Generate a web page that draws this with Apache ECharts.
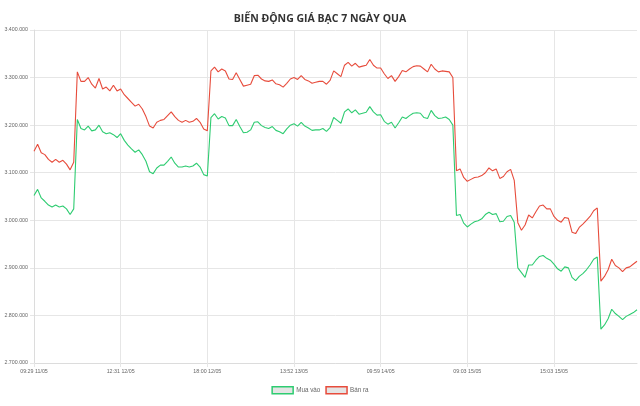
<!DOCTYPE html>
<html>
<head>
<meta charset="utf-8">
<script src="https://cdn.jsdelivr.net/npm/echarts@6/dist/echarts.min.js"></script>
<style>
    html, body { margin: 0; padding: 0; background: #fff; }
    #chart { width: 640px; height: 406px; }
</style>
</head>
<body>
<div id="chart"></div>
<script>
// nhãn trục x (mỗi 24 điểm một nhãn)
var tickLabels = ["09:29 11/05", "12:31 12/05", "18:00 12/05", "13:52 13/05", "09:59 14/05", "09:03 15/05", "15:03 15/05"];
var tickStep = 24;

// giá bán ra (đỏ)
var banRa = [
    3145000, 3160000, 3142000, 3138000, 3128000, 3122000, 3128000, 3122000, 3126000, 3118000, 3106000, 3122000,
    3312000, 3292000, 3292000, 3300000, 3286000, 3278000, 3298000, 3276000, 3280000, 3272000, 3284000, 3272000,
    3276000, 3264000, 3256000, 3248000, 3240000, 3244000, 3234000, 3218000, 3198000, 3194000, 3206000, 3210000,
    3212000, 3220000, 3228000, 3218000, 3210000, 3206000, 3210000, 3206000, 3208000, 3214000, 3206000, 3192000,
    3188000, 3314000, 3322000, 3312000, 3318000, 3314000, 3297000, 3296000, 3310000, 3296000, 3282000, 3284000,
    3286000, 3304000, 3305000, 3297000, 3293000, 3292000, 3295000, 3287000, 3285000, 3280000, 3288000, 3297000,
    3300000, 3296000, 3304000, 3296000, 3293000, 3288000, 3290000, 3292000, 3292000, 3286000, 3294000, 3314000,
    3308000, 3302000, 3326000, 3332000, 3324000, 3330000, 3322000, 3324000, 3326000, 3338000, 3326000, 3320000,
    3320000, 3308000, 3298000, 3304000, 3292000, 3302000, 3315000, 3312000, 3318000, 3323000, 3325000, 3324000,
    3318000, 3312000, 3328000, 3318000, 3312000, 3314000, 3313000, 3312000, 3300000, 3104000, 3108000, 3090000,
    3082000, 3086000, 3090000, 3091000, 3094000, 3100000, 3110000, 3104000, 3108000, 3088000, 3092000, 3102000,
    3107000, 3084000, 2995000, 2979000, 2990000, 3011000, 3005000, 3018000, 3030000, 3032000, 3024000, 3024000,
    3008000, 3000000, 2996000, 3006000, 3004000, 2975000, 2972000, 2985000, 2992000, 3000000, 3008000, 3020000,
    3026000, 2872000, 2882000, 2896000, 2918000, 2905000, 2900000, 2892000, 2900000, 2902000, 2908000, 2914000
];

// giá mua vào (xanh)
var muaVao = [
    3052000, 3065000, 3047000, 3040000, 3032000, 3028000, 3032000, 3028000, 3030000, 3024000, 3012000, 3024000,
    3212000, 3193000, 3190000, 3198000, 3188000, 3190000, 3200000, 3186000, 3182000, 3184000, 3180000, 3174000,
    3182000, 3168000, 3158000, 3150000, 3143000, 3148000, 3138000, 3124000, 3102000, 3098000, 3110000, 3116000,
    3116000, 3124000, 3133000, 3120000, 3112000, 3112000, 3114000, 3112000, 3114000, 3120000, 3112000, 3096000,
    3093000, 3216000, 3224000, 3213000, 3218000, 3215000, 3199000, 3199000, 3212000, 3197000, 3184000, 3185000,
    3190000, 3206000, 3207000, 3199000, 3195000, 3193000, 3197000, 3189000, 3186000, 3182000, 3192000, 3200000,
    3203000, 3198000, 3206000, 3198000, 3194000, 3189000, 3190000, 3190000, 3193000, 3187000, 3195000, 3216000,
    3210000, 3204000, 3228000, 3234000, 3226000, 3232000, 3223000, 3225000, 3227000, 3239000, 3228000, 3221000,
    3222000, 3208000, 3202000, 3206000, 3194000, 3205000, 3217000, 3214000, 3220000, 3225000, 3226000, 3225000,
    3216000, 3214000, 3231000, 3220000, 3214000, 3215000, 3217000, 3212000, 3200000, 3010000, 3012000, 2994000,
    2986000, 2992000, 2997000, 2999000, 3003000, 3012000, 3017000, 3012000, 3014000, 2997000, 2998000, 3008000,
    3010000, 2996000, 2900000, 2890000, 2880000, 2906000, 2906000, 2916000, 2924000, 2926000, 2920000, 2916000,
    2908000, 2898000, 2893000, 2902000, 2900000, 2880000, 2873000, 2882000, 2888000, 2896000, 2906000, 2918000,
    2923000, 2771000, 2780000, 2793000, 2813000, 2804000, 2798000, 2791000, 2798000, 2802000, 2806000, 2812000
];

var green = "#2ecc71";
var red = "#e74c3c";

window.addEventListener("load", function () {
    var myChart = echarts.init(document.getElementById("chart"));

    // chỉ số điểm trên trục x
    var xData = muaVao.map(function (v, i) { return i; });

    function dots(v) {
        return String(v).replace(/\B(?=(\d{3})+(?!\d))/g, ".");
    }

    var option = {
        animation: false,
        title: {
            text: "BIẾN ĐỘNG GIÁ BẠC 7 NGÀY QUA",
            left: "center",
            top: 9,
            textStyle: {
                fontFamily: "Open Sans",
                fontSize: 10.5,
                fontWeight: "bold",
                color: "#333"
            }
        },
        legend: {
            top: 381,
            left: "center",
            icon: "rect",
            itemWidth: 21,
            itemHeight: 7,
            itemGap: 5,
            textStyle: {
                fontFamily: "Liberation Sans",
                fontSize: 6.3,
                color: "#666",
                padding: [0, 0, 0, -2]
            },
            data: [
                { name: "Mua vào", itemStyle: { color: "#e4e4e4", borderColor: green, borderWidth: 1.5 } },
                { name: "Bán ra", itemStyle: { color: "#e4e4e4", borderColor: red, borderWidth: 1.5 } }
            ]
        },
        grid: {
            left: 34,
            right: 3,
            top: 30,
            bottom: 43,
            outerBoundsMode: "none"
        },
        xAxis: {
            type: "category",
            boundaryGap: false,
            data: xData,
            axisLine: { lineStyle: { color: "#dcdcdc" } },
            axisTick: {
                show: true,
                interval: tickStep - 1,
                length: 4,
                lineStyle: { color: "#e6e6e6" }
            },
            axisLabel: {
                interval: tickStep - 1,
                fontFamily: "Liberation Sans",
                fontSize: 5.3,
                color: "#666",
                margin: 6,
                formatter: function (value, index) {
                    return tickLabels[index / tickStep] || "";
                }
            },
            splitLine: {
                show: true,
                interval: tickStep - 1,
                lineStyle: { color: "#e6e6e6" }
            }
        },
        yAxis: {
            type: "value",
            min: 2700000,
            max: 3400000,
            interval: 100000,
            axisLine: { show: true, lineStyle: { color: "#dcdcdc" } },
            axisTick: { show: true, length: 4, lineStyle: { color: "#e6e6e6" } },
            axisLabel: {
                fontFamily: "Liberation Sans",
                fontSize: 5.3,
                color: "#666",
                margin: 6,
                formatter: dots
            },
            splitLine: { lineStyle: { color: "#e6e6e6" } }
        },
        series: [
            {
                name: "Mua vào",
                type: "line",
                data: muaVao,
                showSymbol: false,
                color: green,
                lineStyle: { width: 1.1, color: green }
            },
            {
                name: "Bán ra",
                type: "line",
                data: banRa,
                showSymbol: false,
                color: red,
                lineStyle: { width: 1.1, color: red }
            }
        ]
    };

    myChart.setOption(option);
    window.addEventListener("resize", function () {
        myChart.resize();
    });
});
</script>
</body>
</html>
